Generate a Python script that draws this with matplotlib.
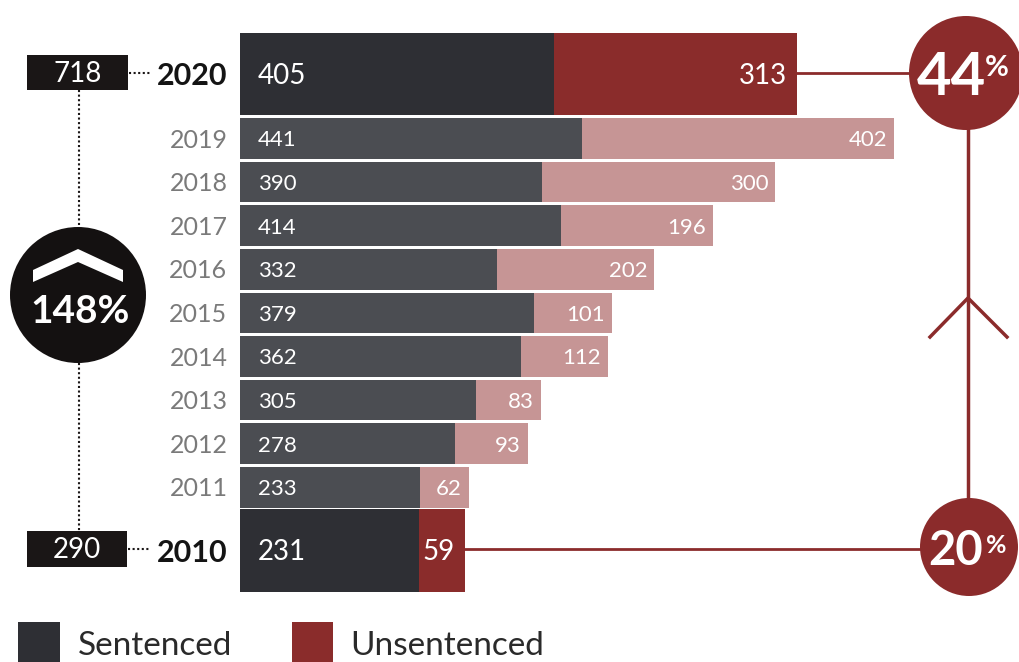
import matplotlib
matplotlib.use('Agg')
import matplotlib.pyplot as plt
from matplotlib.patches import Circle, Rectangle, Polygon

# ---------------- data ----------------
years = ['2020', '2019', '2018', '2017', '2016', '2015', '2014', '2013', '2012', '2011', '2010']
sentenced = [405, 441, 390, 414, 332, 379, 362, 305, 278, 233, 231]
unsentenced = [313, 402, 300, 196, 202, 101, 112, 83, 93, 62, 59]
legend_labels = ['Sentenced', 'Unsentenced']

plt.rcParams['font.family'] = ['Lato', 'DejaVu Sans']

W, H = 1020, 662
fig = plt.figure(figsize=(W / 100, H / 100), dpi=100)
fig.patch.set_facecolor('white')

# main axes: x in value units, y in pixel rows
X0, K = 239.5, 0.7765          # pixel of value 0, pixels per unit
ax = fig.add_axes([0, 0, 1, 1])
ax.set_xlim(-X0 / K, (W - X0) / K)
ax.set_ylim(H, 0)
ax.axis('off')

n = len(years)
big = [i == 0 or i == n - 1 for i in range(n)]
centers = []
heights = []
for i in range(n):
    if i == 0:
        centers.append(74.0); heights.append(82)
    elif i == n - 1:
        centers.append(550.5); heights.append(83)
    else:
        centers.append(138.5 + 43.6 * (i - 1)); heights.append(40.5)

SENT_BIG, SENT = '#2e2f34', '#4b4d52'
UNS_BIG, UNS = '#8a2c2b', '#c69595'
RED = '#8b2b2b'
BLACK = '#1a1616'

sent_colors = [SENT_BIG if b else SENT for b in big]
uns_colors = [UNS_BIG if b else UNS for b in big]

ax.barh(centers, sentenced, height=heights, color=sent_colors, linewidth=0)
ax.barh(centers, unsentenced, left=sentenced, height=heights, color=uns_colors, linewidth=0)

totals = [s + u for s, u in zip(sentenced, unsentenced)]
for i in range(n):
    c = centers[i]
    if big[i]:
        fs, off = 20, 10
    else:
        fs, off = 16, 8
    ax.text(24, c + off, str(sentenced[i]), color='white', fontsize=fs,
            ha='left', va='baseline')
    ax.text(totals[i] - (10 if big[i] else 7) / K, c + off, str(unsentenced[i]),
            color='white', fontsize=fs, ha='right', va='baseline')
    if big[i]:
        ax.text(-12 / K, c + 11, years[i], color='#141414', fontsize=22,
                fontweight='bold', ha='right', va='baseline')
    else:
        ax.text(-12 / K, c + 9, years[i], color='#7a7a7a', fontsize=18,
                ha='right', va='baseline')

# ---------------- overlay in pixel coordinates ----------------
ov = fig.add_axes([0, 0, 1, 1])
ov.set_xlim(0, W)
ov.set_ylim(H, 0)
ov.axis('off')
ov.patch.set_alpha(0)

# left: total boxes
box_top = dict(x=27, y=55, w=101, h=35)
box_bot = dict(x=27, y=531, w=100, h=36)
for b, tot in [(box_top, totals[0]), (box_bot, totals[-1])]:
    ov.add_patch(Rectangle((b['x'], b['y']), b['w'], b['h'], color=BLACK, lw=0))
    ov.text(b['x'] + b['w'] / 2, b['y'] + b['h'] / 2 + 9.5, str(tot), color='white',
            fontsize=20, ha='center', va='baseline')
ov.plot([129, 151], [73, 73], color=BLACK, lw=1.5, ls=(0, (1, 1.2)))
ov.plot([128, 150], [549, 549], color=BLACK, lw=1.5, ls=(0, (1, 1.2)))
ov.plot([79, 79], [90, 228], color=BLACK, lw=1.5, ls=(0, (1, 1.2)))
ov.plot([79, 79], [363, 531], color=BLACK, lw=1.5, ls=(0, (1, 1.2)))

# growth circle
growth = round((totals[0] / totals[-1] - 1) * 100)
ov.add_patch(Circle((78, 295), 68, color='#141111', lw=0))
ov.add_patch(Polygon([(33, 270), (78, 249), (123, 270), (123, 282), (78, 262), (33, 282)],
                     closed=True, color='white', lw=0))
ov.text(80, 323, f'{growth}%', color='white', fontsize=28, fontweight='bold',
        ha='center', va='baseline')

# right: share circles
share_top = round(unsentenced[0] / totals[0] * 100)
share_bot = round(unsentenced[-1] / totals[-1] * 100)

ov.plot([968, 968], [128, 500], color=RED, lw=2.5, solid_capstyle='butt')
ov.plot([930, 968, 1007], [337, 298, 337], color=RED, lw=2.5)
ov.plot([X0 + K * totals[0], 915], [73, 73], color=RED, lw=2)
ov.plot([X0 + K * totals[-1], 925], [549, 549], color=RED, lw=2)

ov.add_patch(Circle((966, 73), 57, color=RED, lw=0))
ov.text(951, 95, str(share_top), color='white', fontsize=43, fontweight='bold',
        ha='center', va='baseline')
ov.text(985, 76, '%', color='white', fontsize=21, fontweight='bold',
        ha='left', va='baseline')

ov.add_patch(Circle((969, 547), 49, color=RED, lw=0))
ov.text(956, 565, str(share_bot), color='white', fontsize=34, fontweight='bold',
        ha='center', va='baseline')
ov.text(986, 553, '%', color='white', fontsize=18, fontweight='bold',
        ha='left', va='baseline')

# legend
ov.add_patch(Rectangle((18, 622), 42, 50, color=SENT_BIG, lw=0))
ov.text(78, 655, legend_labels[0], color='#2a2a2a', fontsize=24, ha='left', va='baseline')
ov.add_patch(Rectangle((292, 622), 41, 50, color=UNS_BIG, lw=0))
ov.text(350, 655, legend_labels[1], color='#2a2a2a', fontsize=24, ha='left', va='baseline')

fig.savefig('out.png', dpi=100, facecolor='white')
